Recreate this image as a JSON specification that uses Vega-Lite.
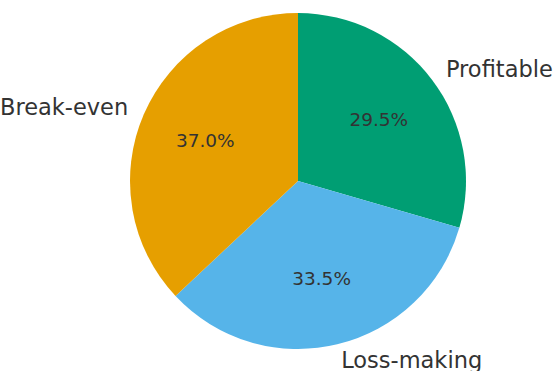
{
  "$schema": "https://vega.github.io/schema/vega-lite/v6.json",
  "width": 516,
  "height": 362,
  "autosize": "none",
  "padding": {"left": 40, "top": 0, "right": 0, "bottom": 9},
  "background": "white",
  "config": {"view": {"stroke": null}, "font": "DejaVu Sans"},
  "data": {"values": [
    {"category": "Profitable", "value": 29.5, "pct": "29.5%", "idx": 1},
    {"category": "Loss-making", "value": 33.5, "pct": "33.5%", "idx": 2},
    {"category": "Break-even", "value": 37.0, "pct": "37.0%", "idx": 3}
  ]},
  "encoding": {
    "theta": {"field": "value", "type": "quantitative", "stack": true},
    "order": {"field": "idx", "type": "quantitative"}
  },
  "layer": [
    {
      "mark": {"type": "arc", "radius": 168},
      "encoding": {
        "color": {"field": "category", "type": "nominal", "legend": null,
          "scale": {"domain": ["Profitable", "Loss-making", "Break-even"], "range": ["#009E73", "#56B4E9", "#E69F00"]}}
      }
    },
    {
      "mark": {"type": "text", "radius": 101, "fontSize": 18.5, "fill": "#333333", "font": "DejaVu Sans", "baseline": "middle"},
      "encoding": {"text": {"field": "pct", "type": "nominal"}}
    },
    {
      "mark": {"type": "text", "radius": 185, "fontSize": 22.5, "fill": "#333333", "align": "left", "baseline": "middle", "font": "DejaVu Sans"},
      "encoding": {"text": {"condition": {"test": "datum.category !== 'Break-even'", "field": "category"}, "value": ""}}
    },
    {
      "mark": {"type": "text", "radius": 185, "fontSize": 22.5, "fill": "#333333", "align": "right", "baseline": "middle", "font": "DejaVu Sans"},
      "encoding": {"text": {"condition": {"test": "datum.category === 'Break-even'", "field": "category"}, "value": ""}}
    }
  ]
}
